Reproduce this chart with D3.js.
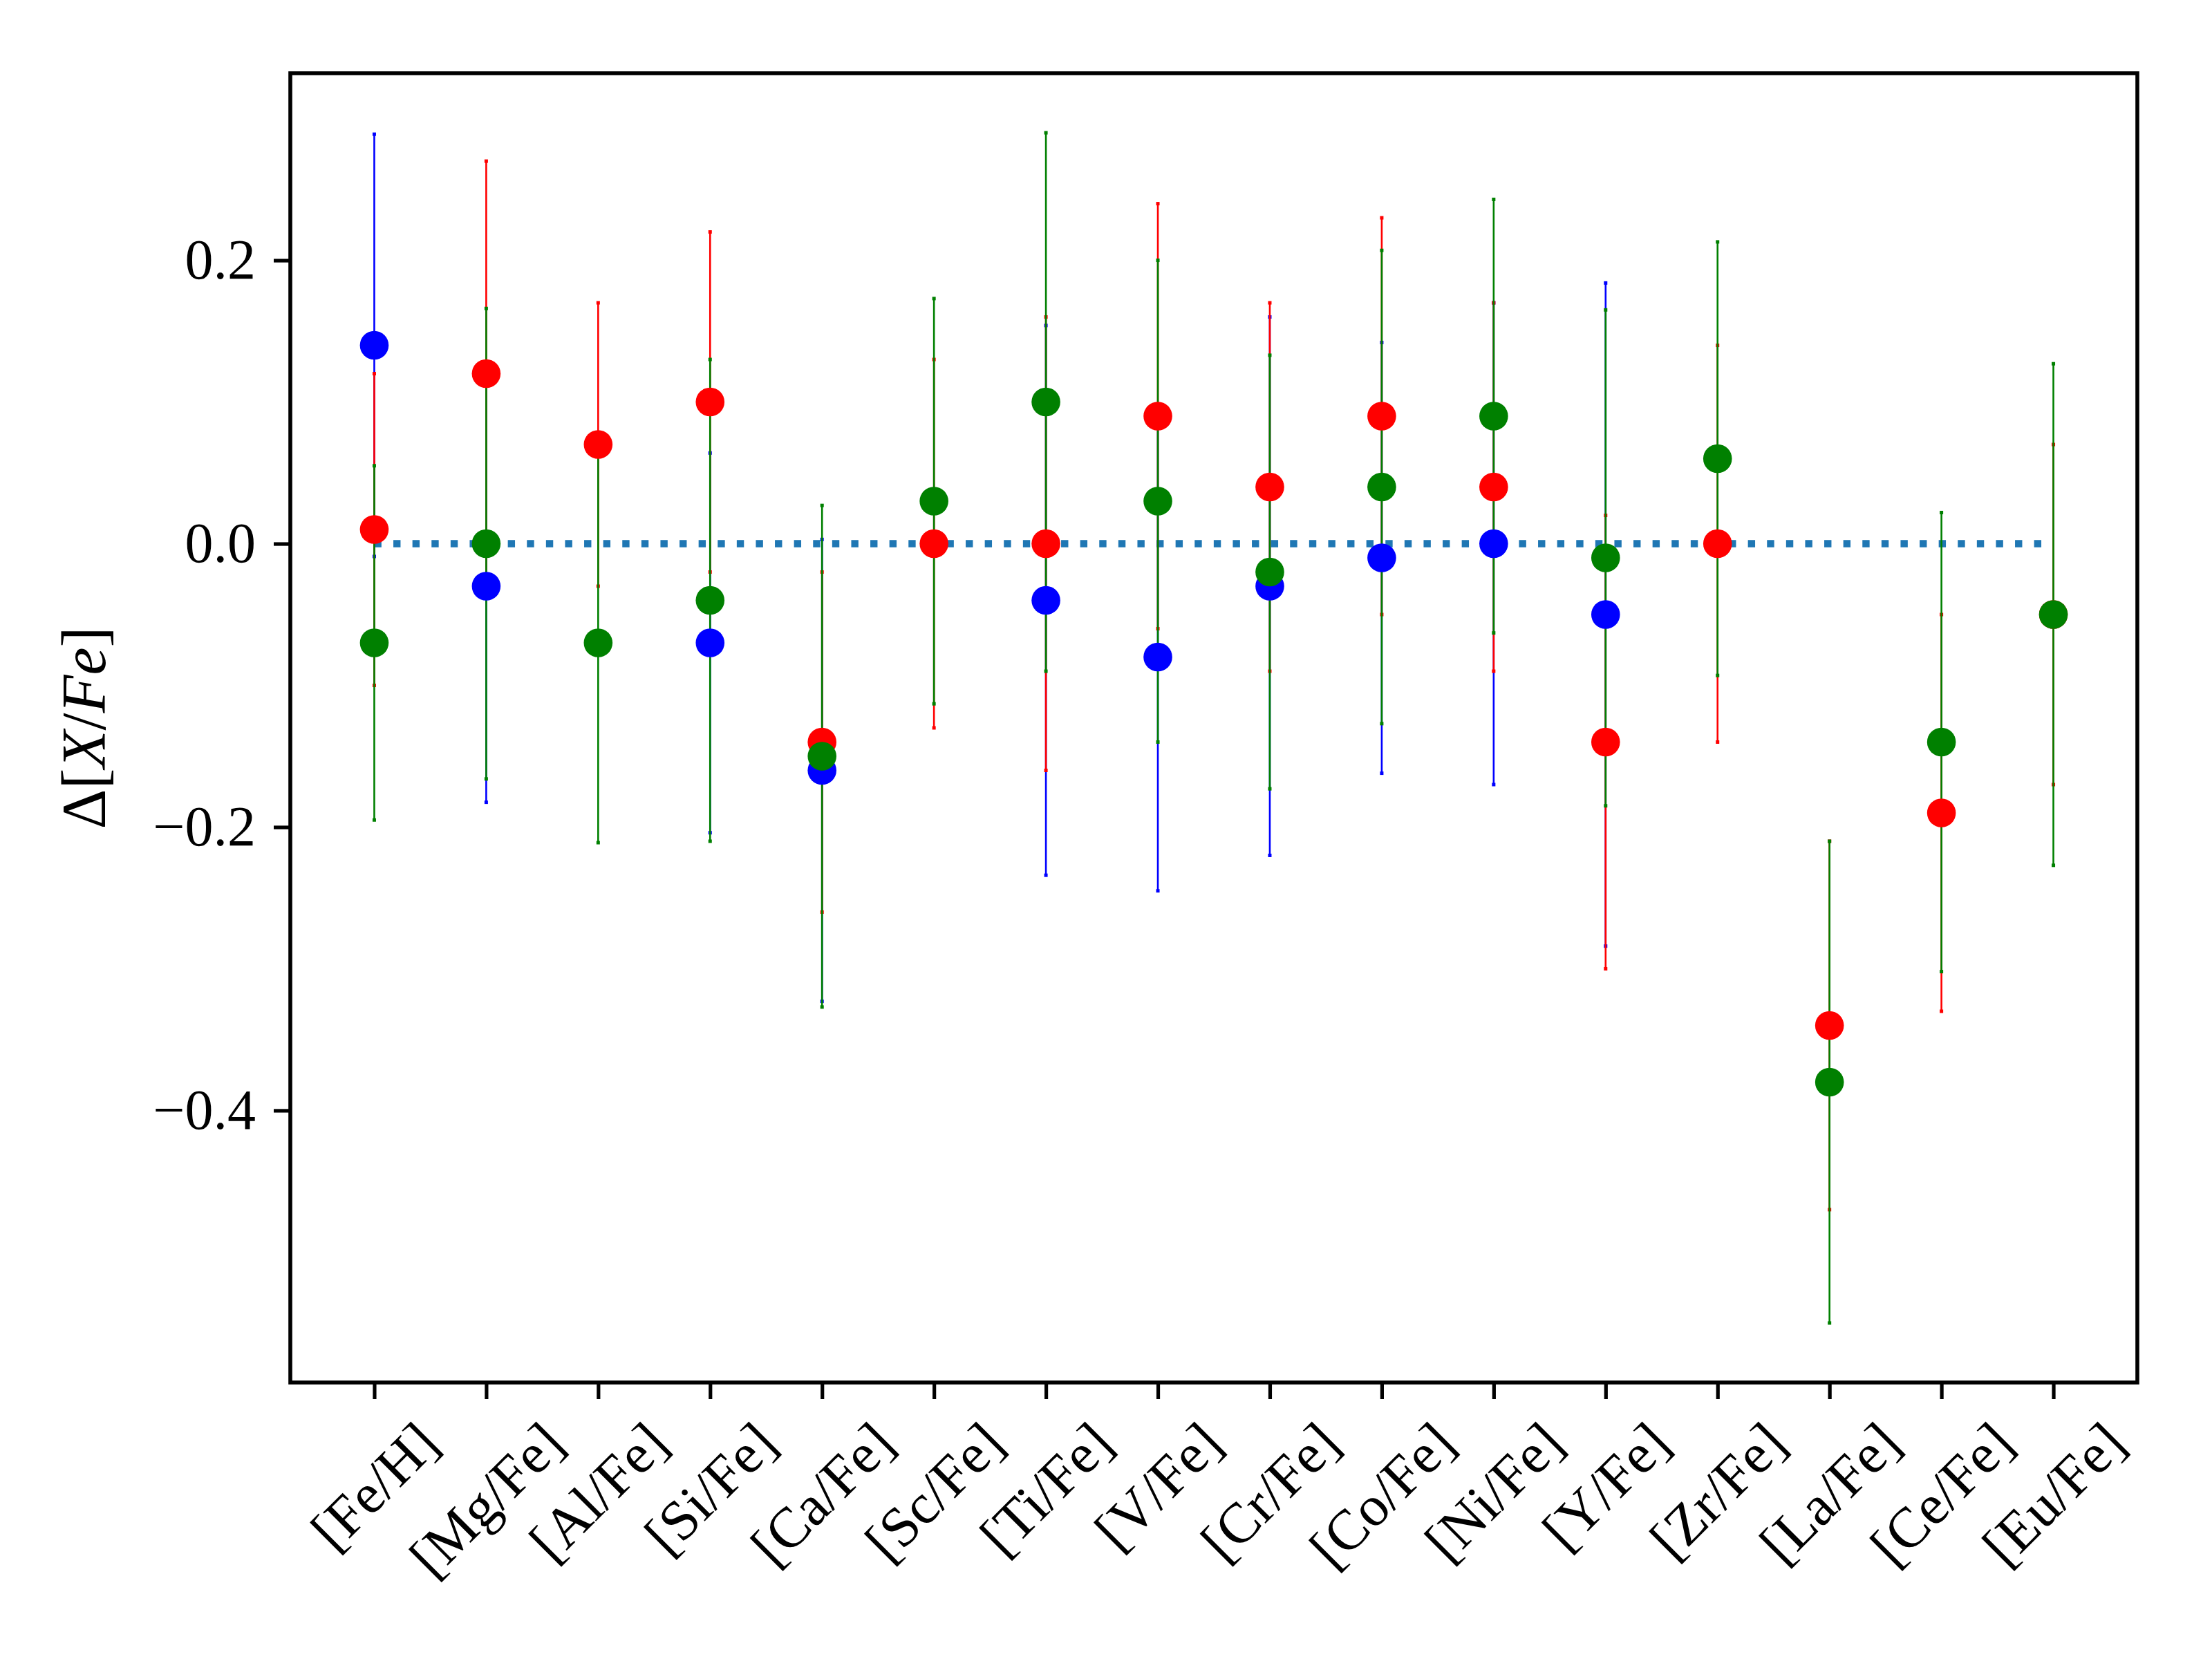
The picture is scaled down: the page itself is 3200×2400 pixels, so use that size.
<!DOCTYPE html>
<html><head><meta charset="utf-8">
<script src="https://cdn.jsdelivr.net/npm/d3@7"></script>
<style>body{margin:0;background:#fff}</style>
</head><body>
<svg id="c" width="3200" height="2400" xmlns="http://www.w3.org/2000/svg"></svg>
<script>
// ---- data ----
const categories = ["[Fe/H]","[Mg/Fe]","[Al/Fe]","[Si/Fe]","[Ca/Fe]","[Sc/Fe]","[Ti/Fe]","[V/Fe]","[Cr/Fe]","[Co/Fe]","[Ni/Fe]","[Y/Fe]","[Zr/Fe]","[La/Fe]","[Ce/Fe]","[Eu/Fe]"];
const blueValues  = [0.14, -0.03, null, -0.07, -0.16, null, -0.04, -0.08, -0.03, -0.01, 0.00, -0.05, null, null, null, null];
const blueErrors  = [0.149, 0.1525, null, 0.134, 0.163, null, 0.194, 0.165, 0.19, 0.152, 0.17, 0.234, null, null, null, null];
const redValues   = [0.01, 0.12, 0.07, 0.10, -0.14, 0.00, 0.00, 0.09, 0.04, 0.09, 0.04, -0.14, 0.00, -0.34, -0.19, -0.05];
const redErrors   = [0.11, 0.15, 0.10, 0.12, 0.12, 0.13, 0.16, 0.15, 0.13, 0.14, 0.13, 0.16, 0.14, 0.13, 0.14, 0.12];
const greenValues = [-0.07, 0.00, -0.07, -0.04, -0.15, 0.03, 0.10, 0.03, -0.02, 0.04, 0.09, -0.01, 0.06, -0.38, -0.14, -0.05];
const greenErrors = [0.125, 0.166, 0.141, 0.17, 0.177, 0.143, 0.19, 0.17, 0.153, 0.167, 0.153, 0.175, 0.153, 0.17, 0.162, 0.177];
const yTicks = [-0.4, -0.2, 0.0, 0.2];
const yLabelParts = [["Δ","normal"],["[","normal"],["X","italic"],["/","normal"],["Fe","italic"],["]","normal"]];

const series = [
  {color:"#0000ff", values:blueValues, errors:blueErrors},
  {color:"#ff0000", values:redValues, errors:redErrors},
  {color:"#008000", values:greenValues, errors:greenErrors}
];

// ---- layout ----
const L = 420, R = 3092, T = 106, B = 2000;
const FONT = "'Liberation Serif', 'DejaVu Serif', serif";
const svg = d3.select("#c");
svg.append("rect").attr("width",3200).attr("height",2400).attr("fill","#fff");

const n = categories.length;
const xPad = (n-1)*0.05;
const x = d3.scaleLinear().domain([-xPad, n-1+xPad]).range([L, R]);

let lo = Infinity, hi = -Infinity;
series.forEach(s => s.values.forEach((v,i) => {
  if (v === null) return;
  lo = Math.min(lo, v - s.errors[i]); hi = Math.max(hi, v + s.errors[i]);
}));
const yPad = (hi-lo)*0.05;
const y = d3.scaleLinear().domain([lo-yPad, hi+yPad]).range([B, T]);

const plot = svg.append("g");

// zero dotted line
plot.append("line")
  .attr("x1", x(0)).attr("x2", x(n-1)).attr("y1", y(0)).attr("y2", y(0))
  .attr("stroke","#1f77b4").attr("stroke-width",10.4)
  .attr("stroke-dasharray","10.4,17.2").attr("stroke-linecap","butt");

// error bars
const cap = 5;
series.forEach(s => {
  const pts = s.values.map((v,i)=>({i, v, e:s.errors[i]})).filter(d=>d.v!==null);
  const g = plot.append("g");
  g.selectAll("line").data(pts).join("line")
    .attr("x1",d=>x(d.i)).attr("x2",d=>x(d.i))
    .attr("y1",d=>y(d.v-d.e)).attr("y2",d=>y(d.v+d.e))
    .attr("stroke",s.color).attr("stroke-width",2.6);
  g.selectAll("rect.lo").data(pts).join("rect").attr("class","lo")
    .attr("x",d=>x(d.i)-cap/2).attr("y",d=>y(d.v-d.e)-cap/2)
    .attr("width",cap).attr("height",cap).attr("fill",s.color);
  g.selectAll("rect.hi").data(pts).join("rect").attr("class","hi")
    .attr("x",d=>x(d.i)-cap/2).attr("y",d=>y(d.v+d.e)-cap/2)
    .attr("width",cap).attr("height",cap).attr("fill",s.color);
});

// markers
series.forEach(s => {
  const pts = s.values.map((v,i)=>({i, v})).filter(d=>d.v!==null);
  plot.append("g").selectAll("circle").data(pts).join("circle")
    .attr("cx",d=>x(d.i)).attr("cy",d=>y(d.v)).attr("r",20.8)
    .attr("fill",s.color);
});

// axes
const yAxis = svg.append("g").attr("transform",`translate(${L},0)`)
  .call(d3.axisLeft(y).tickValues(yTicks).tickSize(24).tickPadding(26).tickFormat(d3.format(".1f")));
yAxis.select(".domain").remove();
yAxis.selectAll("line").attr("stroke","#000").attr("stroke-width",5.2);
yAxis.selectAll("text").attr("font-family",FONT).attr("font-size",82).attr("fill","#000");

const xAxis = svg.append("g").attr("transform",`translate(0,${B})`)
  .call(d3.axisBottom(x).tickValues(d3.range(n)).tickSize(24).tickFormat(i=>categories[i]));
xAxis.select(".domain").remove();
xAxis.selectAll("line").attr("stroke","#000").attr("stroke-width",5.2);
const xfs = 82;
xAxis.selectAll("text").attr("font-family",FONT).attr("font-size",xfs).attr("fill","#000")
  .each(function(){
    const w = this.getComputedTextLength();
    const off = (w + xfs) * Math.SQRT1_2 / 2;
    d3.select(this).attr("text-anchor","middle").attr("dominant-baseline","central")
      .attr("y",0).attr("dy",null)
      .attr("transform",`translate(0,${44 + off}) rotate(-45)`);
  });

// frame
svg.append("rect").attr("x",L).attr("y",T).attr("width",R-L).attr("height",B-T)
  .attr("fill","none").attr("stroke","#000").attr("stroke-width",5.6);

// y label
const yl = svg.append("text").attr("transform",`translate(152,${(T+B)/2}) rotate(-90)`)
  .attr("text-anchor","middle").attr("font-family",FONT).attr("font-size",90).attr("fill","#000");
yLabelParts.forEach(p => yl.append("tspan").attr("font-style",p[1]).text(p[0]));
</script>
</body></html>
